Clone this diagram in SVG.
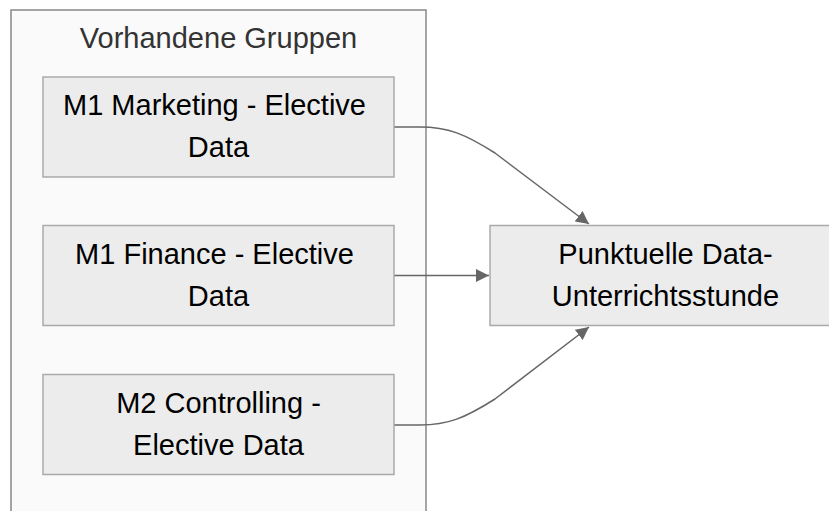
<svg xmlns="http://www.w3.org/2000/svg" width="829" height="511" viewBox="0 0 829 511">
<defs>
<style>
.cluster{fill:#fafafa;stroke:#888;stroke-width:1.5}
.node rect{fill:#ececec;stroke:#aaa;stroke-width:1.5}
.t{font-family:"Liberation Sans",Arial,sans-serif;font-size:29px;fill:#000;text-anchor:middle}
.title{fill:#333}
.edge{fill:none;stroke:#666;stroke-width:1.5;marker-end:url(#arr)}
</style>
<marker id="arr" viewBox="0 0 10 10" refX="10" refY="5" markerUnits="userSpaceOnUse" markerWidth="13" markerHeight="13" orient="auto">
<path d="M0,0 L10,5 L0,10 z" fill="#666"/>
</marker>
</defs>
<rect width="829" height="511" fill="#ffffff"/>
<g id="cluster-vorhandene">
<rect class="cluster" x="11" y="10" width="415" height="520"/>
<text class="t title" x="218.5" y="48">Vorhandene Gruppen</text>
</g>
<g id="edges">
<path class="edge" d="M394,127 L420,127 C448,127 465,134 495,153 L589,224"/>
<path class="edge" d="M394,275.5 L489,275.5"/>
<path class="edge" d="M394,425 L420,425 C448,425 465,418 495,399 L589,327"/>
</g>
<g id="node-m1-marketing" class="node">
<rect x="43" y="77" width="351" height="100"/>
<text class="t" x="214.5" y="115">M1 Marketing - Elective</text>
<text class="t" x="218.5" y="157">Data</text>
</g>
<g id="node-m1-finance" class="node">
<rect x="43" y="225.5" width="351" height="100"/>
<text class="t" x="214.5" y="264">M1 Finance - Elective</text>
<text class="t" x="218.5" y="306">Data</text>
</g>
<g id="node-m2-controlling" class="node">
<rect x="43" y="374.5" width="351" height="100"/>
<text class="t" x="218.5" y="413">M2 Controlling -</text>
<text class="t" x="218.5" y="455">Elective Data</text>
</g>
<g id="node-punktuelle" class="node">
<rect x="490" y="225.5" width="351" height="100"/>
<text class="t" x="665.5" y="264">Punktuelle Data-</text>
<text class="t" x="665.5" y="306">Unterrichtsstunde</text>
</g>
</svg>
